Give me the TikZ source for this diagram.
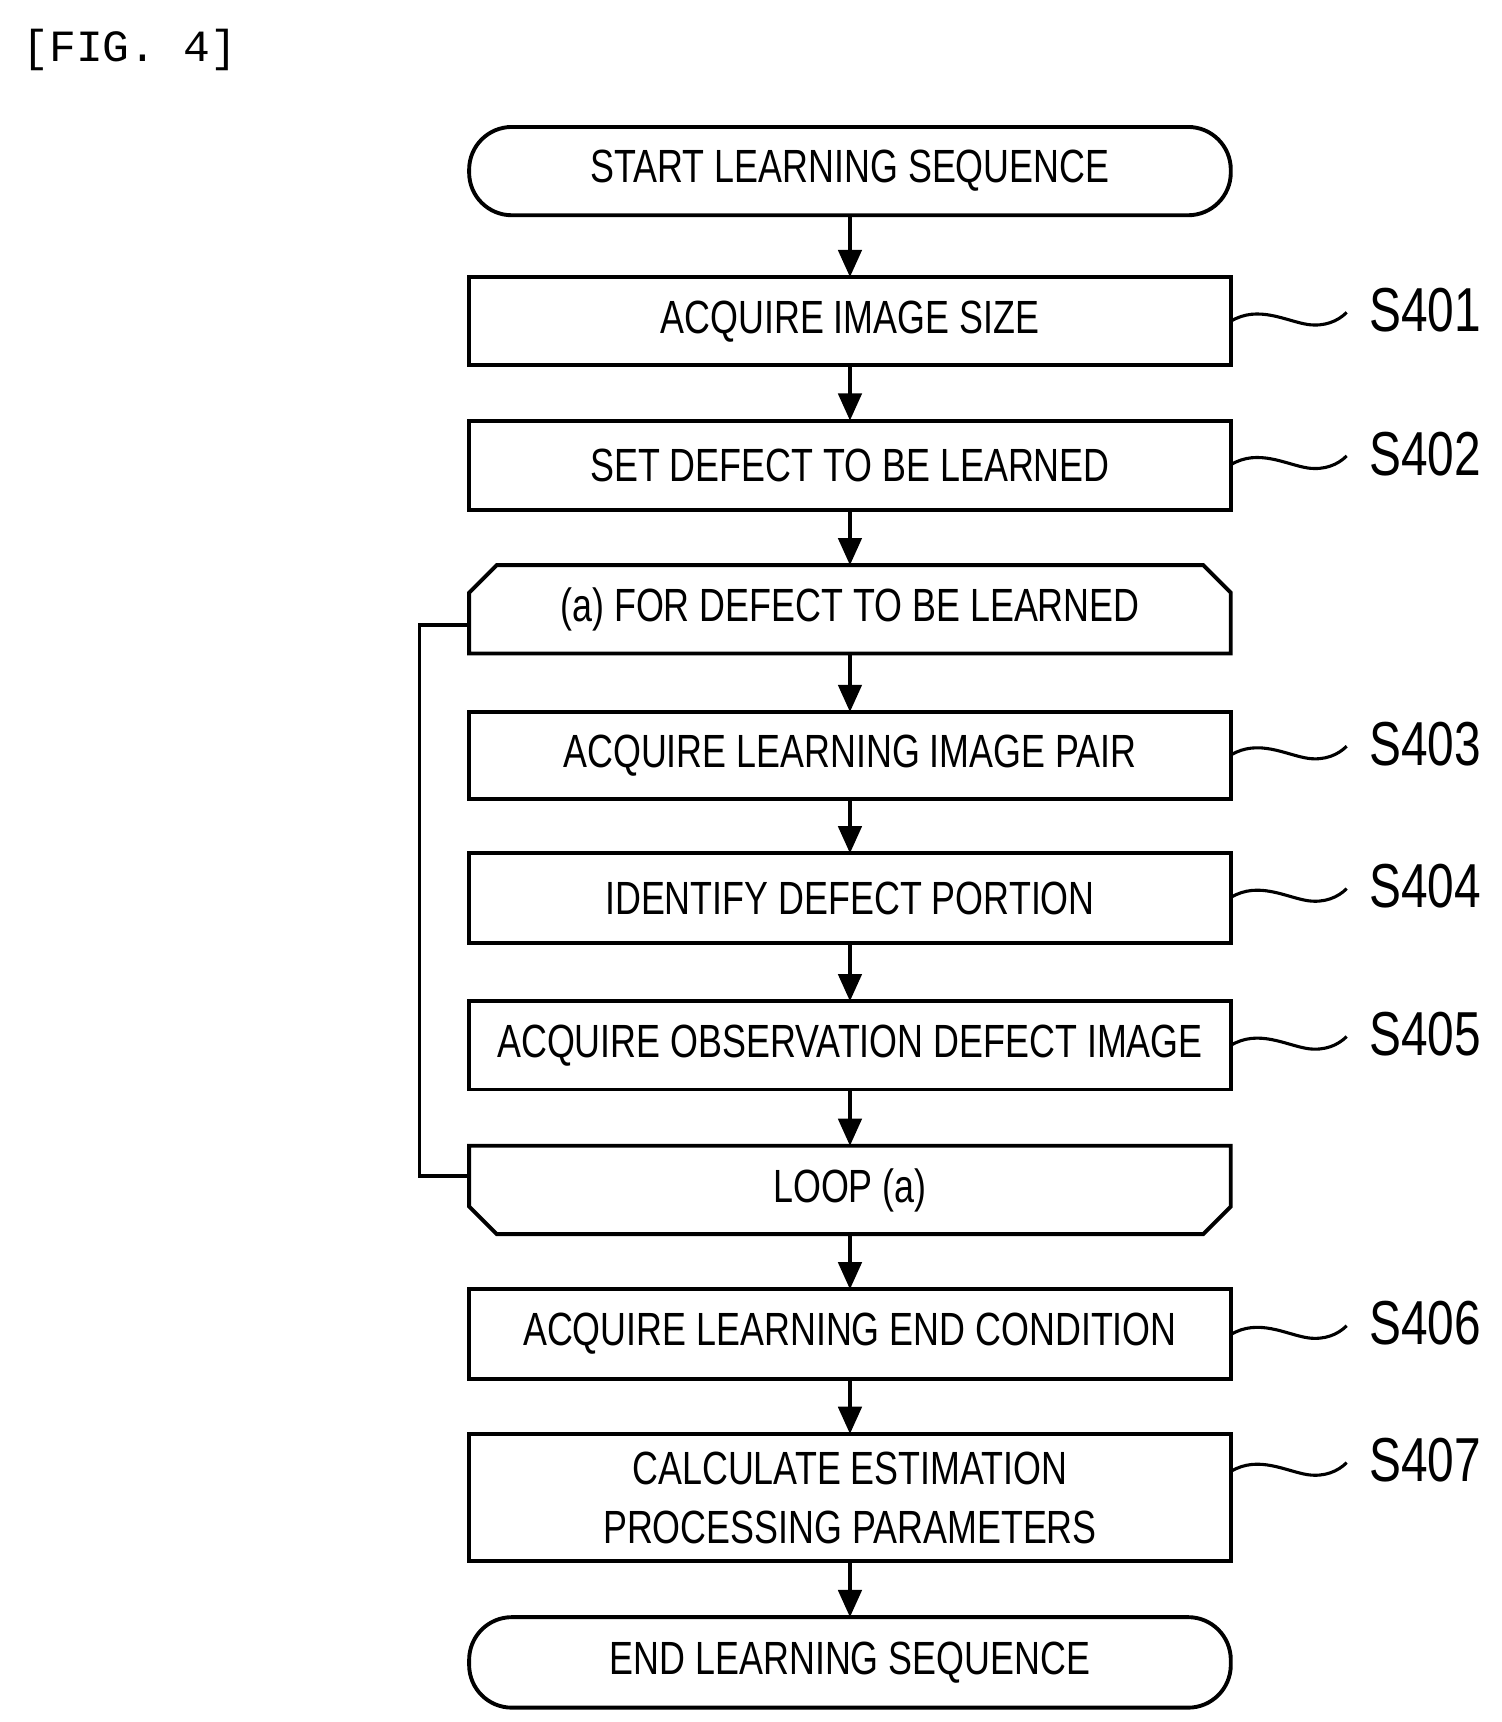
\documentclass[tikz,border=0pt]{standalone}
\usepackage{fontspec}
\setmainfont{Liberation Sans}[FakeStretch=0.77]
\newfontfamily\monof{Liberation Mono}
\usetikzlibrary{arrows.meta}
\begin{document}
\begin{tikzpicture}[x=0.01cm,y=-0.01cm,
 arr/.style={line width=1pt,-{Triangle[length=7pt,width=6pt]}},
 lab/.style={font=\fontsize{16}{19}\selectfont,anchor=west},
 bt/.style={font=\fontsize{12}{15}\selectfont,align=center},
 lead/.style={line width=0.8pt}]
\useasboundingbox (0,0) rectangle (1360,1560);
\node[anchor=north west,font=\monof\fontsize{11.5}{14}\selectfont] (fig) at (8,14) {[FIG. 4]};
\draw[line width=1pt,rounded corners=11pt] (425,115) rectangle (1115,195);
\node[bt] (st) at (770,155) {START LEARNING SEQUENCE};
\coordinate (stb) at (770,195);
\foreach \n/\t/\b/\txt in {a/251/331/ACQUIRE IMAGE SIZE, b/381/462/SET DEFECT TO BE LEARNED, c/645/724/ACQUIRE LEARNING IMAGE PAIR, d/773/854/IDENTIFY DEFECT PORTION, e/907/987/ACQUIRE OBSERVATION DEFECT IMAGE, f/1168/1249/ACQUIRE LEARNING END CONDITION}{
 \draw[line width=1pt] (425,\t) rectangle (1115,\b);
 \node[bt] (\n) at (770,{(\t+\b)/2}) {\txt};
 \coordinate (\n t) at (770,\t); \coordinate (\n b) at (770,\b);}
\draw[line width=1pt] (425,1299) rectangle (1115,1414);
\node[bt] (g) at (770,1357) {CALCULATE ESTIMATION\\PROCESSING PARAMETERS};
\coordinate (gt) at (770,1299); \coordinate (gb) at (770,1414);
\draw[line width=1pt] (425,592) -- (425,537) -- (450,512) -- (1090,512) -- (1115,537) -- (1115,592) -- cycle;
\node[bt] (ls) at (770,552) {(a) FOR DEFECT TO BE LEARNED};
\coordinate (lst) at (770,512); \coordinate (lsb) at (770,592);
\draw[line width=1pt] (425,1038) -- (425,1093) -- (450,1118) -- (1090,1118) -- (1115,1093) -- (1115,1038) -- cycle;
\node[bt] (le) at (770,1078) {LOOP (a)};
\coordinate (let) at (770,1038); \coordinate (leb) at (770,1118);
\draw[line width=1pt,rounded corners=11pt] (425,1465) rectangle (1115,1547);
\node[bt] (en) at (770,1506) {END LEARNING SEQUENCE};
\coordinate (ent) at (770,1465);
\draw[arr] (stb) -- (at); \draw[arr] (ab) -- (bt); \draw[arr] (bb) -- (lst);
\draw[arr] (lsb) -- (ct); \draw[arr] (cb) -- (dt); \draw[arr] (db) -- (et);
\draw[arr] (eb) -- (let); \draw[arr] (leb) -- (ft); \draw[arr] (fb) -- (gt); \draw[arr] (gb) -- (ent);
\coordinate (l1) at (425,566); \coordinate (l2) at (425,1065);
\draw[line width=1pt] (l1) -- (380,566) -- (380,1065) -- (l2);
\foreach \y/\s in {291/S401,421/S402,684/S403,813/S404,947/S405,1209/S406,1333/S407}{
 \draw[lead] (1115,\y) .. controls (1140,{\y-15}) and (1165,\y) .. (1185,{\y+3}) .. controls (1200,{\y+5}) and (1212,\y) .. (1220,{\y-8});
 \node[lab] (\s) at (1228,{\y-10}) {\s};}
\end{tikzpicture}
\end{document}
